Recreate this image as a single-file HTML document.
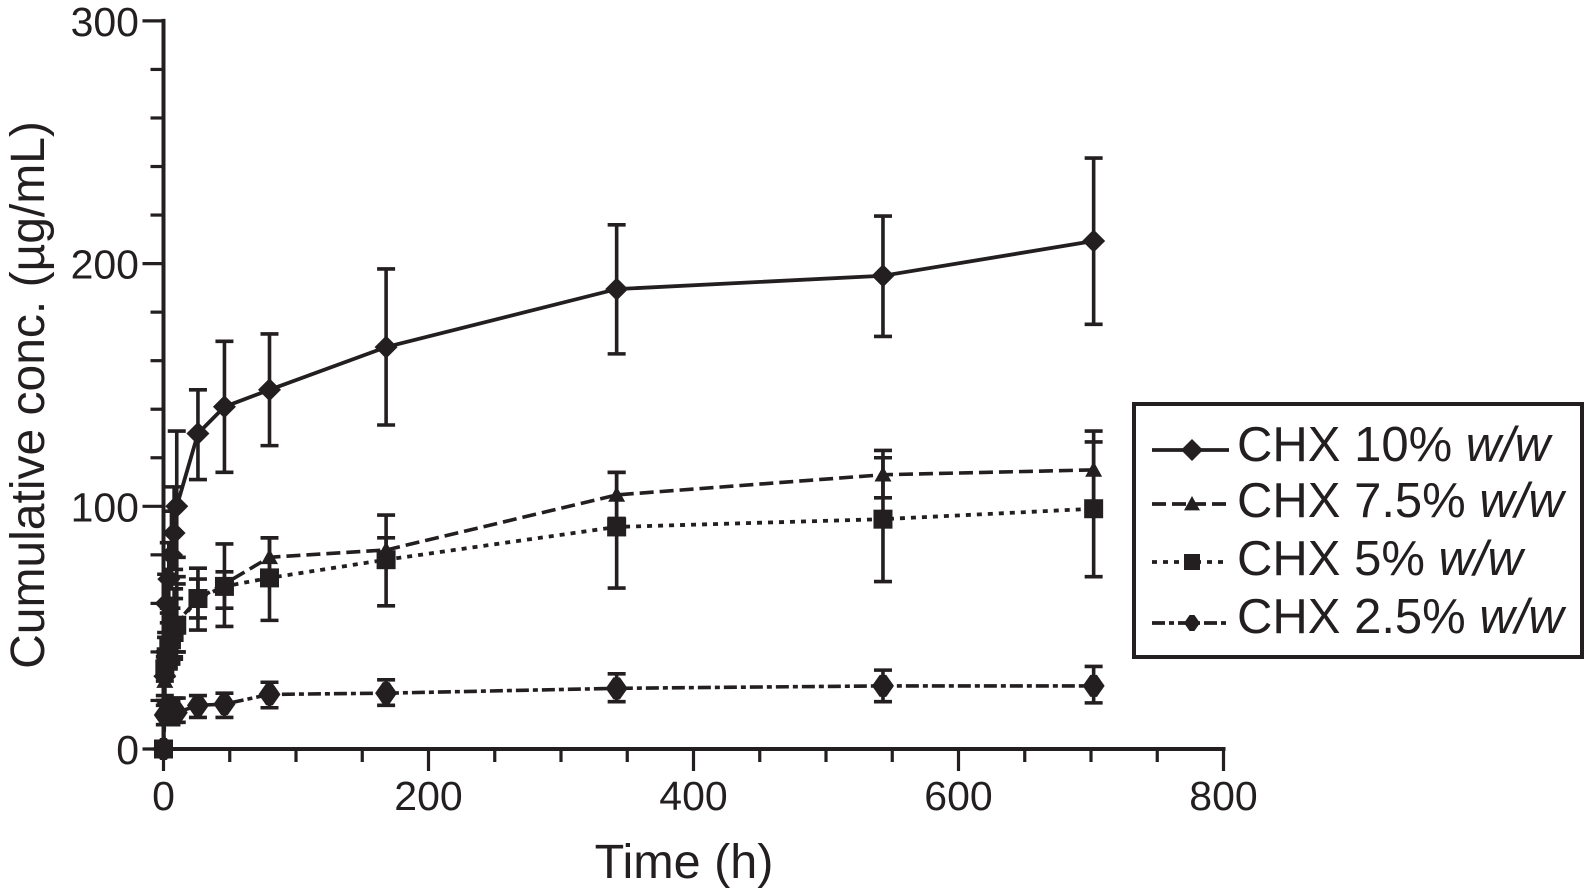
<!DOCTYPE html>
<html lang="en">
<head>
<meta charset="utf-8">
<title>Cumulative CHX release</title>
<style>
html,body{margin:0;padding:0;background:#fff}
svg{display:block}
text{font-family:"Liberation Sans",sans-serif;fill:#231f20}
</style>
</head>
<body>
<svg id="chart" xmlns="http://www.w3.org/2000/svg" width="1584" height="890" viewBox="0 0 1584 890">
  <g id="errors"></g>
  <g id="lines"></g>
  <g id="markers"></g>
  <g id="axes"></g>
  <text transform="translate(44,395) rotate(-90)" text-anchor="middle" font-size="48">Cumulative conc. (µg/mL)</text>
  <text x="684" y="878" text-anchor="middle" font-size="48.5">Time (h)</text>
  <g>
    <rect x="1134" y="404" width="448" height="253" fill="#fff" stroke="#231f20" stroke-width="4"/>
    <g id="legend-samples"></g>
    <text x="1237" y="461" font-size="49">CHX 10% <tspan font-style="italic">w/w</tspan></text>
    <text x="1237" y="517" font-size="49">CHX 7.5% <tspan font-style="italic">w/w</tspan></text>
    <text x="1237" y="575" font-size="49">CHX 5% <tspan font-style="italic">w/w</tspan></text>
    <text x="1237" y="633" font-size="49">CHX 2.5% <tspan font-style="italic">w/w</tspan></text>
  </g>
</svg>
<script>
const times = [0, 1, 2, 4, 6, 8, 10, 26, 46, 80, 168, 342, 543, 702];
const xTickLabels = [0, 200, 400, 600, 800];
const yTickLabels = [0, 100, 200, 300];

const values10 = [0, 30, 60, 70, 80, 89, 100, 130, 141, 148, 165.6, 189.5, 195, 209.3];
const upper10 = [0, 40, 72, 85, 98, 108, 131, 148, 168, 171, 197.8, 216, 219.6, 243.5];
const lower10 = [0, 20, 48, 58, 66, 74, 71, 111, 114, 125, 133.5, 162.8, 170, 175];

const values75 = [0, 28, 38, 44, 48, 50, 52, 62, 68, 79, 82, 104.7, 113, 115];
const upper75 = [0, 34, 46, 56, 62, 66, 79, 70, 73, 87, 87, 114, 123, 131];
const lower75 = [0, 22, 30, 34, 36, 38, 40, 54, 58, 71, 77, 95, 103.5, 101];

const values5 = [0, 33, 38, 42, 45, 48, 51, 62, 67, 70.5, 78, 91.5, 94.7, 99];
const upper5 = [0, 38, 46, 52, 58, 62, 68, 74.5, 84.5, 87, 96.4, 114, 120, 126.5];
const lower5 = [0, 28, 30, 33, 35, 37, 40, 49, 50.5, 53, 59, 66.3, 69, 71];

const values25 = [0, 14, 14.5, 15, 15, 16, 15, 18, 18.5, 22.5, 23, 25, 26, 26];
const upper25 = [0, 18, 19, 20, 20, 21, 21, 22, 23, 27.5, 28.5, 31, 32.5, 34];
const lower25 = [0, 10, 10, 10, 10, 11, 11, 13, 13, 17, 18, 19.5, 19.5, 19];

const INK = '#231f20';
const SVGNS = 'http://www.w3.org/2000/svg';
const X0 = 163.5, XS = 1.325, Y0 = 749, YS = 2.427;
function xScale(v) { return X0 + v * XS; }
function yScale(v) { return Y0 - v * YS; }

function make(tag, attrs, parent) {
  const el = document.createElementNS(SVGNS, tag);
  for (const k in attrs) el.setAttribute(k, attrs[k]);
  parent.appendChild(el);
  return el;
}

function drawMarker(kind, cx, cy, size, parent) {
  let el;
  if (kind === 'diamond') {
    el = make('polygon', {points: `${cx},${cy-size} ${cx+size},${cy} ${cx},${cy+size} ${cx-size},${cy}`, fill: INK}, parent);
  } else if (kind === 'triangle') {
    el = make('polygon', {points: `${cx},${cy-size} ${cx+size},${cy+size*0.8} ${cx-size},${cy+size*0.8}`, fill: INK}, parent);
  } else if (kind === 'square') {
    el = make('rect', {x: cx-size, y: cy-size, width: size*2, height: size*2, fill: INK}, parent);
  } else {
    el = make('polygon', {points: `${cx-size*0.3},${cy-size} ${cx+size*0.3},${cy-size} ${cx+size},${cy} ${cx+size*0.3},${cy+size} ${cx-size*0.3},${cy+size} ${cx-size},${cy}`, fill: INK}, parent);
  }
  return el;
}

const seriesList = [
  {id: '2-5', vals: values25, up: upper25, lo: lower25, kind: 'hex', size: 11, legendSize: 8, dash: '13 4 5 4', width: 3.6, legendY: 623},
  {id: '5', vals: values5, up: upper5, lo: lower5, kind: 'square', size: 9.5, legendSize: 8, dash: '5 6', width: 3.8, legendY: 562},
  {id: '7-5', vals: values75, up: upper75, lo: lower75, kind: 'triangle', size: 8.5, legendSize: 8, dash: '14 6', width: 3.6, legendY: 504},
  {id: '10', vals: values10, up: upper10, lo: lower10, kind: 'diamond', size: 11.5, legendSize: 11, dash: 'none', width: 3.8, legendY: 450}
];

const errorsG = document.getElementById('errors');
const linesG = document.getElementById('lines');
const markersG = document.getElementById('markers');
const axesG = document.getElementById('axes');
const legendG = document.getElementById('legend-samples');

seriesList.forEach(function (s) {
  const pts = times.map(function (t, i) { return xScale(t) + ',' + yScale(s.vals[i]); }).join(' ');
  const line = make('polyline', {points: pts, fill: 'none', stroke: INK, 'stroke-width': s.width, 'stroke-dasharray': s.dash}, linesG);
  
  
  times.forEach(function (t, i) {
    const x = xScale(t);
    const bar = make('path', {
      d: `M${x} ${yScale(s.up[i])}V${yScale(s.lo[i])}M${x-9} ${yScale(s.up[i])}H${x+9}M${x-9} ${yScale(s.lo[i])}H${x+9}`,
      fill: 'none', stroke: INK, 'stroke-width': 3.6
    }, errorsG);
    
    
    const m = drawMarker(s.kind, x, yScale(s.vals[i]), s.size, markersG);
    
    
  });
  const sample = make('line', {x1: 1152, x2: 1229, y1: s.legendY, y2: s.legendY, stroke: INK, 'stroke-width': 3.8, 'stroke-dasharray': s.dash}, legendG);
  
  
  const lm = drawMarker(s.kind, 1192, s.legendY, s.legendSize, legendG);
  
  
});

const yAxis = make('line', {x1: xScale(0), x2: xScale(0), y1: yScale(300) - 2, y2: yScale(0) + 2, stroke: INK, 'stroke-width': 4}, axesG);


const xAxis = make('line', {x1: xScale(0) - 2, x2: xScale(800) + 2, y1: yScale(0), y2: yScale(0), stroke: INK, 'stroke-width': 4}, axesG);



for (let v = 0; v <= 300; v += 20) {
  const major = v % 100 === 0;
  const t = make('line', {x1: xScale(0) - (major ? 21 : 13), x2: xScale(0), y1: yScale(v), y2: yScale(v), stroke: INK, 'stroke-width': 3.2}, axesG);
  
  
}
for (let v = 0; v <= 800; v += 50) {
  const major = v % 200 === 0;
  const t = make('line', {x1: xScale(v), x2: xScale(v), y1: yScale(0), y2: yScale(0) + (major ? 22 : 13), stroke: INK, 'stroke-width': 3.2}, axesG);
  
  
}
yTickLabels.forEach(function (v) {
  const t = make('text', {x: 139, y: yScale(v) + 15, 'text-anchor': 'end', 'font-size': 41}, axesG);
  t.textContent = v;
  
  
});
xTickLabels.forEach(function (v) {
  const t = make('text', {x: xScale(v), y: 810, 'text-anchor': 'middle', 'font-size': 41}, axesG);
  t.textContent = v;
  
  
});
</script>
</body>
</html>
